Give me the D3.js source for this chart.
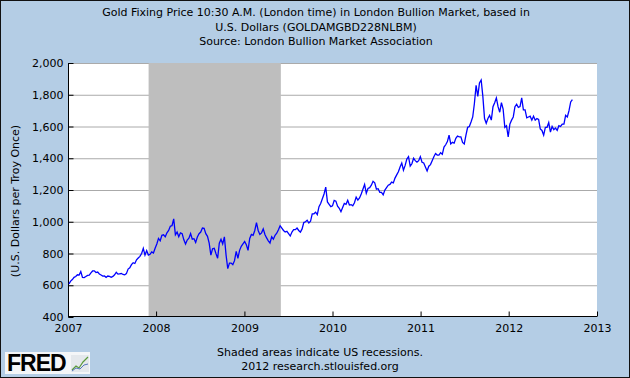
<!DOCTYPE html>
<html>
<head>
<meta charset="utf-8">
<script src="https://cdn.jsdelivr.net/npm/d3@7"></script>
<style>
body { margin: 0; }
svg text { font-family: "DejaVu Sans", Verdana, sans-serif; font-size: 11px; fill: #000; }
</style>
</head>
<body>
<div id="chart"></div>
<script>
// weekly fixing price, first value is 5 Jan 2007, one value per week
const gold2007 = [609, 626, 636, 650, 655, 666, 664, 686, 650, 648, 655, 662, 664,
  678, 690, 691, 680, 683, 671, 665, 658, 659, 650, 658, 656, 650,
  656, 666, 682, 670, 672, 674, 668, 666, 673, 702, 710, 730, 742,
  737, 760, 772, 782, 800, 832, 790, 818, 790, 795, 810, 803, 833];
const gold2008 = [860, 895, 880, 915, 918, 905, 930, 945, 972, 975, 1018, 918, 935,
  905, 930, 925, 886, 860, 885, 896, 925, 890, 893, 870, 904, 925,
  935, 960, 958, 925, 908, 865, 790, 830, 833, 800, 770, 865, 890,
  860, 905, 790, 705, 740, 740, 730, 755, 814, 770, 820, 845, 860];
const gold2009 = [875, 855, 820, 895, 920, 915, 945, 995, 945, 920, 930, 955, 920,
  898, 880, 866, 905, 890, 915, 928, 950, 975, 960, 945, 935, 940,
  925, 910, 935, 950, 950, 960, 945, 935, 955, 995, 1000, 1010, 992,
  1003, 1050, 1050, 1060, 1045, 1095, 1115, 1145, 1175, 1218, 1125, 1110, 1095];
const gold2010 = [1100, 1135, 1130, 1098, 1085, 1063, 1090, 1115, 1110, 1135, 1105, 1108, 1100,
  1120, 1155, 1136, 1150, 1175, 1205, 1235, 1180, 1210, 1215, 1230, 1255, 1245,
  1205, 1208, 1185, 1185, 1170, 1200, 1215, 1230, 1235, 1250, 1245, 1275, 1295,
  1315, 1345, 1370, 1325, 1355, 1395, 1410, 1350, 1365, 1400, 1385, 1375, 1385, 1410];
const gold2011 = [1375, 1370, 1345, 1320, 1350, 1360, 1385, 1410, 1430, 1420, 1420, 1435,
  1425, 1470, 1485, 1505, 1545, 1490, 1500, 1495, 1525, 1540, 1535, 1535, 1500,
  1490, 1545, 1595, 1600, 1628, 1660, 1745, 1860, 1790, 1875, 1893, 1790, 1650, 1620,
  1650, 1670, 1640, 1725, 1750, 1780, 1725, 1690, 1750, 1710, 1595, 1605, 1535];
const gold2012 = [1615, 1640, 1660, 1725, 1740, 1720, 1725, 1780, 1705, 1705, 1655, 1660, 1665,
  1640, 1665, 1640, 1650, 1645, 1585, 1575, 1545, 1595, 1595, 1625, 1565, 1600,
  1580, 1590, 1575, 1605, 1600, 1615, 1615, 1670, 1660, 1700, 1755, 1770];

const firstWeek = new Date(2007, 0, 5);
const recessionStart = new Date(2007, 11, 1);
const recessionEnd = new Date(2009, 5, 1);
const yearTicks = [2007, 2008, 2009, 2010, 2011, 2012, 2013];
const priceTicks = [400, 600, 800, 1000, 1200, 1400, 1600, 1800, 2000];
const titleLines = ["Gold Fixing Price 10:30 A.M. (London time) in London Bullion Market, based in",
  "U.S. Dollars (GOLDAMGBD228NLBM)",
  "Source: London Bullion Market Association"];
const yLabel = "(U.S. Dollars per Troy Once)";

var width = 630
var height = 378
const margin = {top: 63, right: 33, bottom: 61, left: 68}
const innerWidth = width - margin.left - margin.right;
const innerHeight = height - margin.top - margin.bottom;

const prices = gold2007.concat(gold2008, gold2009, gold2010, gold2011, gold2012);
const data = prices.map((p, i) => ({date: d3.timeDay.offset(firstWeek, i * 7), price: p}));

var svg = d3.select("#chart").append("svg")
  .attr("width", width)
  .attr("height", height)

svg.append("rect")
  .attr("x", 0.5).attr("y", 0.5)
  .attr("width", width - 1).attr("height", height - 1)
  .attr("fill", "#b4cde5")
  .attr("stroke", "#111")

const xScale = d3.scaleTime()
  .domain([new Date(2007, 0, 1), new Date(2013, 0, 1)])
  .range([0, innerWidth]);

const yScale = d3.scaleLinear()
  .domain([400, 2000])
  .range([innerHeight, 0]);

const g = svg.append("g")
  .attr("transform", `translate(${margin.left}, ${margin.top})`)

g.append("rect")
  .attr("width", innerWidth)
  .attr("height", innerHeight)
  .attr("fill", "#fff")

// grid
g.selectAll(".grid").data(priceTicks.slice(1))
  .enter().append("line")
  .attr("class", "grid")
  .attr("x1", 0).attr("x2", innerWidth)
  .attr("y1", d => yScale(d) + 0.5).attr("y2", d => yScale(d) + 0.5)
  .attr("stroke", "#aaa")

// recession shading goes over the grid
g.append("rect")
  .attr("x", xScale(recessionStart))
  .attr("width", xScale(recessionEnd) - xScale(recessionStart))
  .attr("y", 0)
  .attr("height", innerHeight)
  .attr("fill", "#bebebe")

const yAxis = d3.axisLeft(yScale)
  .tickValues(priceTicks)
  .tickFormat(d3.format(","))
  .tickSize(-5)
  .tickPadding(10);

const yAxisG = g.append("g").attr("transform", "translate(0.5,0)").call(yAxis);
yAxisG.select(".domain").attr("d", `M0,0V${innerHeight + 0.5}`).attr("stroke", "#000");
yAxisG.selectAll(".tick line").attr("stroke", "#000");
yAxisG.selectAll("text").attr("x", -5);

const xAxis = d3.axisBottom(xScale)
  .tickValues(yearTicks.map(y => new Date(y, 0, 1)))
  .tickFormat(d3.timeFormat("%Y"))
  .tickSize(-5)
  .tickPadding(10);

const xAxisG = g.append("g").attr("transform", `translate(0, ${innerHeight - 0.5})`).call(xAxis);
xAxisG.select(".domain").attr("d", `M0,0H${innerWidth}`).attr("stroke", "#000");
xAxisG.selectAll(".tick line").attr("stroke", "#000");
xAxisG.selectAll("text").attr("y", 8).attr("dy", "0.71em");

svg.selectAll(".tick text").style("font-size", "11px").style("font-family", "\"DejaVu Sans\", Verdana, sans-serif");

const line = d3.line()
  .x(d => xScale(d.date))
  .y(d => yScale(d.price));

g.append("path")
  .datum(data)
  .attr("fill", "none")
  .attr("stroke", "#0000ff")
  .attr("stroke-width", 1.3)
  .attr("d", line)

// titles
svg.selectAll(".title").data(titleLines)
  .enter().append("text")
  .attr("class", "title")
  .attr("x", 316)
  .attr("y", (d, i) => 16 + i * 14.5)
  .attr("text-anchor", "middle")
  .text(d => d)

svg.append("text")
  .attr("transform", "translate(19, 201) rotate(-90)")
  .attr("text-anchor", "middle")
  .text(yLabel)

svg.append("text")
  .attr("x", 320).attr("y", 356)
  .attr("text-anchor", "middle")
  .text("Shaded areas indicate US recessions.")

svg.append("text")
  .attr("x", 320).attr("y", 370)
  .attr("text-anchor", "middle")
  .text("2012 research.stlouisfed.org")

// FRED logo
const logo = svg.append("g").attr("transform", "translate(5, 352)")
logo.append("rect").attr("width", 85).attr("height", 22).attr("fill", "#f4f6f8")
logo.append("text")
  .attr("x", 2).attr("y", 19)
  .style("font-family", "\"Liberation Sans\", Arial, sans-serif")
  .style("font-size", "23px")
  .style("font-weight", "bold")
  .style("letter-spacing", "-1px")
  .attr("fill", "#1a1a1a")
  .text("FRED")
logo.append("rect").attr("x", 66).attr("y", 3).attr("width", 18).attr("height", 17).attr("fill", "#e4e8ec")
logo.append("path").attr("d", "M67,18 L71,14 L74,16 L78,10 L83,5").attr("fill", "none").attr("stroke", "#5a9a3a").attr("stroke-width", 1.2)
logo.append("path").attr("d", "M67,19 L71,16 L75,17 L79,13 L83,12").attr("fill", "none").attr("stroke", "#5577bb").attr("stroke-width", 1)
</script>
</body>
</html>
